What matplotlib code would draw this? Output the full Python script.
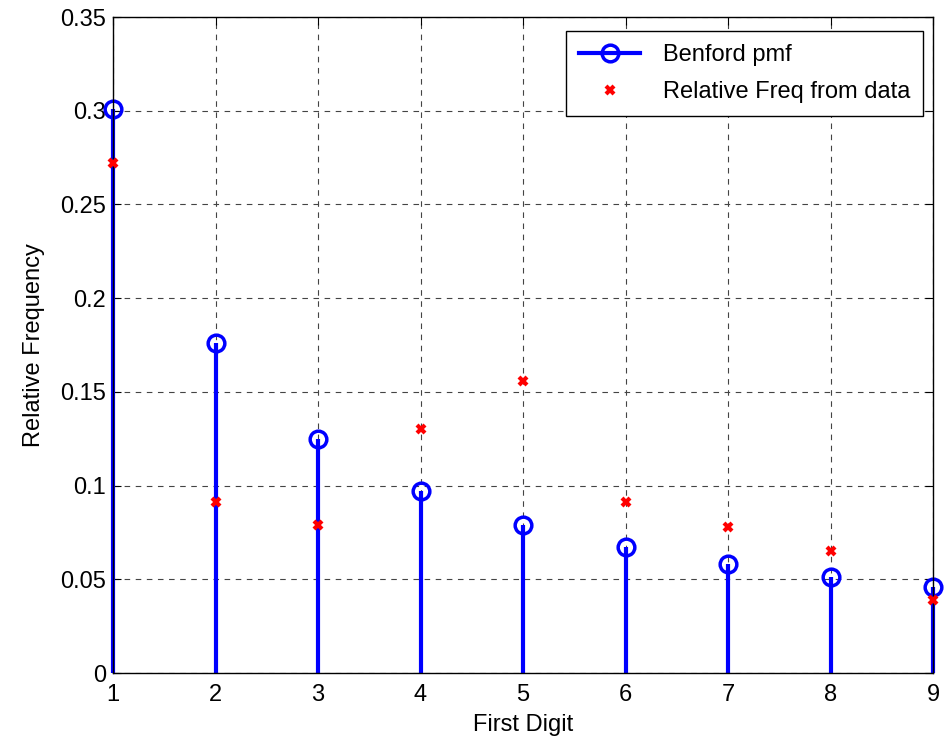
import matplotlib
matplotlib.use("Agg")
import matplotlib.pyplot as plt
from matplotlib.lines import Line2D

digits = [1, 2, 3, 4, 5, 6, 7, 8, 9]
benford = [0.301, 0.176, 0.125, 0.097, 0.079, 0.067, 0.058, 0.051, 0.046]
rel_freq = [0.272, 0.091, 0.079, 0.130, 0.156, 0.091, 0.078, 0.065, 0.039]

plt.rcParams['font.family'] = ['Liberation Sans', 'DejaVu Sans']
FS = 17

fig = plt.figure(figsize=(9.45, 7.4), dpi=100)
ax = fig.add_axes([0.1196, 0.0905, 0.8677, 0.8865])

ml, sl, bl = ax.stem(digits, benford, basefmt=' ')
plt.setp(sl, color='#0000ff', linewidth=3, clip_on=False)
plt.setp(ml, color='#0000ff', marker='o', markersize=12, markerfacecolor='none',
         markeredgewidth=2.5, clip_on=False)
ax.plot(digits, rel_freq, linestyle='none', marker='x', color='#ff0000',
        markersize=6, markeredgewidth=3, zorder=4, clip_on=False)

ax.set_xlim(1, 9)
ax.set_ylim(0, 0.35)
ax.set_xticks(digits)
ax.set_yticks([0, 0.05, 0.1, 0.15, 0.2, 0.25, 0.3, 0.35])
ax.set_yticklabels(['0', '0.05', '0.1', '0.15', '0.2', '0.25', '0.3', '0.35'])
ax.grid(True, linestyle=(0, (5, 5)), color='#444444', linewidth=0.8)
ax.set_axisbelow(True)
ax.tick_params(direction='in', top=True, right=True, labelsize=FS, length=6)
ax.tick_params(axis='x', pad=8)
ax.tick_params(axis='y', pad=5)
for s in ax.spines.values():
    s.set_linewidth(1.0)
ax.set_xlabel('First Digit', fontsize=FS, labelpad=6)
ax.set_ylabel('Relative Frequency', fontsize=FS, labelpad=11)

handles = [
    Line2D([], [], color='#0000ff', linewidth=3, marker='o', markersize=12,
           markerfacecolor='none', markeredgewidth=2.5, markevery=[1]),
    Line2D([], [], linestyle='none', color='#ff0000', marker='x', markersize=6,
           markeredgewidth=3),
]
leg = ax.legend(handles, ['Benford pmf', 'Relative Freq from data'], loc='upper right',
                bbox_to_anchor=(0.988, 0.978),
                fontsize=FS, fancybox=False, edgecolor='black', framealpha=1,
                borderaxespad=0, handlelength=2.6, labelspacing=0.62,
                borderpad=0.55, handletextpad=0.95)
leg.get_frame().set_linewidth(1.0)

fig.savefig('out.png', dpi=100)
